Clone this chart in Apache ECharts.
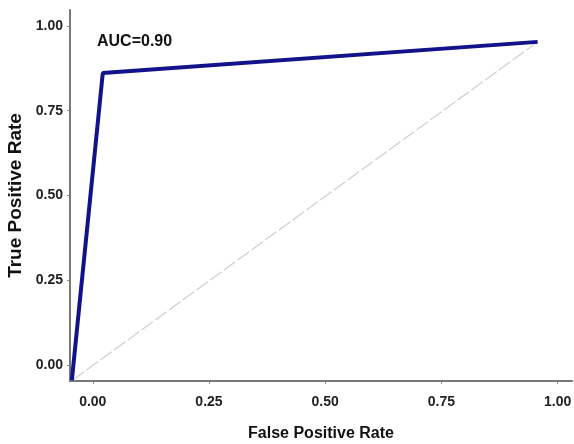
<!DOCTYPE html>
<html><head><meta charset="utf-8">
<script src="https://cdn.jsdelivr.net/npm/echarts@6/dist/echarts.min.js"></script>
<style>html,body{margin:0;padding:0;background:#fff}#c{width:574px;height:444px}</style>
</head><body><div id="c"></div>
<script>
const rocX = [-0.045, 0.0215, 0.957];
const rocY = [-0.045, 0.861, 0.953];
const diagX = [-0.043, 0.957];
const diagY = [-0.044, 0.953];
const tickValues = [0, 0.25, 0.5, 0.75, 1];
const aucText = 'AUC=0.90';

const chart = echarts.init(document.getElementById('c'));
const lab = {fontFamily:'Liberation Sans, Arial, sans-serif', fontSize:14, fontWeight:'bold', color:'#222'};
chart.setOption({
  animation:false,
  grid:{left:70, right:2, top:10, bottom:63, containLabel:false, outerBoundsMode:'none'},
  xAxis:{type:'value', min:-0.049, max:1.031,
    name:'False Positive Rate', nameLocation:'middle', nameGap:45,
    nameTextStyle:{fontFamily:'Liberation Sans, Arial, sans-serif', fontSize:16, fontWeight:'bold', color:'#111'},
    axisLine:{show:true, onZero:false, lineStyle:{color:'#777', width:2}},
    axisTick:{show:true, length:3, customValues:tickValues, lineStyle:{color:'#888'}},
    axisLabel:Object.assign({customValues:tickValues, margin:14, formatter:v=>v.toFixed(2)}, lab),
    splitLine:{show:false}},
  yAxis:{type:'value', min:-0.047, max:1.047,
    name:'True Positive Rate', nameLocation:'middle', nameGap:41,
    nameTextStyle:{fontFamily:'Liberation Sans, Arial, sans-serif', fontSize:19, fontWeight:'bold', color:'#111'},
    axisLine:{show:true, onZero:false, lineStyle:{color:'#777', width:2}},
    axisTick:{show:true, length:3, customValues:tickValues, lineStyle:{color:'#888'}},
    axisLabel:Object.assign({customValues:tickValues, margin:7, formatter:v=>v.toFixed(2)}, lab),
    splitLine:{show:false}},
  graphic:[{type:'text', left:97, top:34, style:{text:aucText, fontFamily:'Liberation Sans, Arial, sans-serif', fontSize:16, fontWeight:'bold', fill:'#111'}}],
  series:[
    {type:'line', data:diagX.map((x,i)=>[x,diagY[i]]), symbol:'none',
     lineStyle:{color:'#cfcfcf', width:1.2, type:[14,3]}, z:1},
    {type:'line', data:rocX.map((x,i)=>[x,rocY[i]]), symbol:'none',
     lineStyle:{color:'#12128a', width:4}, z:2}
  ]
});
</script></body></html>
